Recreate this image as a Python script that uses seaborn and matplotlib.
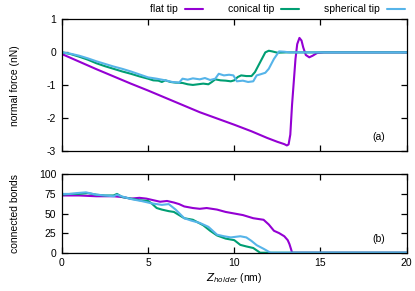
import numpy as np
import pandas as pd
import matplotlib
matplotlib.use("Agg")
import matplotlib.pyplot as plt
import seaborn as sns

# ---------------- data ----------------
series_names = ["flat tip", "conical tip", "spherical tip"]
colors = ["#9400d3", "#009e73", "#56b4e9"]

flat_force_x = [0, 1, 2, 3, 4, 5, 6, 7, 8, 9, 10, 11, 11.9, 12.5, 12.9, 13.05, 13.15,
                13.25, 13.35, 13.45, 13.55, 13.65, 13.78, 13.9, 14.0, 14.15, 14.35,
                14.55, 14.8, 15.2, 16, 20]
flat_force_y = [-0.05, -0.28, -0.51, -0.73, -0.95, -1.16, -1.38, -1.6, -1.82, -2.01,
                -2.2, -2.4, -2.6, -2.72, -2.79, -2.83, -2.8, -2.5, -1.6, -0.9, -0.2,
                0.25, 0.44, 0.36, 0.15, -0.08, -0.15, -0.1, -0.02, 0.0, 0.0, 0.0]

con_force_x = [0, 0.5, 1, 1.5, 2, 2.5, 3, 3.5, 4, 4.5, 5, 5.3, 5.6, 5.8, 6.0, 6.3,
               6.6, 7.0, 7.3, 7.6, 7.9, 8.2, 8.5, 8.7, 8.9, 9.2, 9.5, 9.8, 10.0,
               10.2, 10.4, 10.7, 11.0, 11.2, 11.5, 11.8, 12.0, 12.2, 12.5, 13, 20]
con_force_y = [0, -0.05, -0.13, -0.22, -0.33, -0.42, -0.5, -0.58, -0.65, -0.73,
               -0.8, -0.85, -0.86, -0.9, -0.85, -0.9, -0.92, -0.93, -0.97, -0.99,
               -0.97, -0.95, -0.97, -0.9, -0.82, -0.85, -0.86, -0.88, -0.85, -0.75,
               -0.7, -0.72, -0.72, -0.6, -0.3, 0.0, 0.05, 0.03, -0.01, 0, 0]

sph_force_x = [0, 0.5, 1, 1.5, 2, 2.5, 3, 3.5, 4, 4.5, 5, 5.5, 6.0, 6.4, 6.8, 7.0,
               7.3, 7.6, 8.0, 8.3, 8.6, 8.9, 9.1, 9.4, 9.7, 9.95, 10.15, 10.5, 10.8,
               11.1, 11.3, 11.5, 11.8, 12.0, 12.3, 12.6, 12.9, 13.2, 20]
sph_force_y = [0, -0.04, -0.1, -0.18, -0.27, -0.35, -0.43, -0.5, -0.58, -0.67,
               -0.76, -0.8, -0.85, -0.9, -0.92, -0.8, -0.83, -0.79, -0.82, -0.78,
               -0.84, -0.8, -0.65, -0.7, -0.68, -0.7, -0.88, -0.86, -0.9, -0.88,
               -0.7, -0.67, -0.62, -0.5, -0.2, 0.03, 0.02, 0, 0]

flat_bond_x = [0, 1, 2, 3, 3.5, 4.0, 4.5, 4.9, 5.3, 5.7, 6.1, 6.5, 6.8, 7.1, 7.6,
               8.0, 8.4, 9.0, 9.5, 10.0, 10.5, 11.1, 11.7, 12.0, 12.3, 12.6, 12.9,
               13.1, 13.2, 13.3, 13.35, 20]
flat_bond_y = [73, 73, 72, 72, 71, 69, 70, 69, 67, 65, 66, 64, 62, 59, 57, 56, 57,
               55, 52, 50, 48, 44, 42, 36, 28, 25, 21, 16, 11, 4, 0, 0]

con_bond_x = [0, 0.5, 1, 1.5, 2, 2.5, 3, 3.2, 3.5, 4, 4.5, 5.0, 5.2, 5.5, 5.8, 6.2,
              6.5, 6.8, 7.1, 7.6, 8.2, 8.6, 9.0, 9.5, 10.0, 10.35, 10.7, 11.1, 11.3,
              11.5, 20]
con_bond_y = [74, 75, 75, 76, 74, 73, 73, 75, 71, 69, 67, 66, 63, 57, 55, 53, 52,
              48, 44, 42, 35, 28, 22, 18, 16, 10, 8, 6, 3, 0, 0]

sph_bond_x = [0, 0.5, 0.85, 1.4, 2, 2.5, 3, 3.2, 3.6, 4.1, 4.6, 5.2, 5.8, 6.2, 6.6,
              7.1, 7.5, 8.0, 8.5, 9.0, 9.4, 9.8, 10.35, 10.7, 11.0, 11.3, 11.7,
              12.1, 20]
sph_bond_y = [75, 75, 76, 77, 74, 73, 72, 74, 71, 68, 66, 63, 61, 62, 55, 44, 41,
              38, 33, 23, 21, 19.5, 21, 19.5, 15, 9.6, 5, 0, 0]

x_ticks = [0, 5, 10, 15, 20]
force_ticks = [1, 0, -1, -2, -3]
bond_ticks = [0, 25, 50, 75, 100]


def long_df(xs, ys):
    frames = []
    for name, x, y in zip(series_names, xs, ys):
        frames.append(pd.DataFrame({"x": x, "y": y, "tip": name}))
    return pd.concat(frames, ignore_index=True)


force_df = long_df([flat_force_x, con_force_x, sph_force_x],
                   [flat_force_y, con_force_y, sph_force_y])
bond_df = long_df([flat_bond_x, con_bond_x, sph_bond_x],
                  [flat_bond_y, con_bond_y, sph_bond_y])

# ---------------- style ----------------
sns.set_style("ticks")
plt.rcParams["font.family"] = ["Liberation Sans", "DejaVu Sans"]
plt.rcParams["font.size"] = 7.5
plt.rcParams["axes.linewidth"] = 0.9
plt.rcParams["text.color"] = "black"
plt.rcParams["axes.labelcolor"] = "black"
plt.rcParams["xtick.color"] = "black"
plt.rcParams["ytick.color"] = "black"
plt.rcParams["axes.edgecolor"] = "black"

fig = plt.figure(figsize=(4.15, 2.91), dpi=100)
ax1 = fig.add_axes([0.149, 0.481, 0.831, 0.452])
ax2 = fig.add_axes([0.149, 0.1316, 0.831, 0.2694])

palette = dict(zip(series_names, colors))

sns.lineplot(data=force_df, x="x", y="y", hue="tip", palette=palette,
             estimator=None, sort=False, lw=1.5, ax=ax1)
sns.lineplot(data=bond_df, x="x", y="y", hue="tip", palette=palette,
             estimator=None, sort=False, lw=1.5, ax=ax2, legend=False)

for ax in (ax1, ax2):
    ax.set_xlim(0, 20)
    ax.set_xticks(x_ticks)
    ax.tick_params(direction="in", top=True, right=True, length=4.5, width=0.9,
                   colors="black", labelsize=7.5, pad=4)

ax1.set_ylim(-3, 1)
ax1.set_yticks(force_ticks)
ax1.set_yticklabels([str(t) for t in force_ticks])
ax1.set_xticklabels([])
ax1.set_xlabel("")
ax1.set_ylabel("normal force (nN)", fontsize=7.5)
ax1.text(18.4, -2.57, "(a)", fontsize=7.5, ha="center", va="center")

ax2.set_ylim(0, 100)
ax2.set_yticks(bond_ticks)
ax2.set_xticklabels([str(t) for t in x_ticks])
ax2.set_xlabel(r"$Z_{holder}$ (nm)", fontsize=7.5, labelpad=2)
ax2.set_ylabel("connected bonds", fontsize=7.5)
ax2.text(18.4, 17.5, "(b)", fontsize=7.5, ha="center", va="center")

ax1.yaxis.set_label_coords(-0.12, 0.5)
ax2.yaxis.set_label_coords(-0.12, 0.5)

h, l = ax1.get_legend_handles_labels()
ax1.legend_.remove()
fig.legend(h, l, loc="center right", bbox_to_anchor=(0.975, 0.968), ncol=3,
           frameon=False, markerfirst=False, handlelength=1.7,
           handletextpad=0.7, columnspacing=2.4, fontsize=7.5,
           borderaxespad=0, borderpad=0)

fig.savefig("out.png", dpi=100)
